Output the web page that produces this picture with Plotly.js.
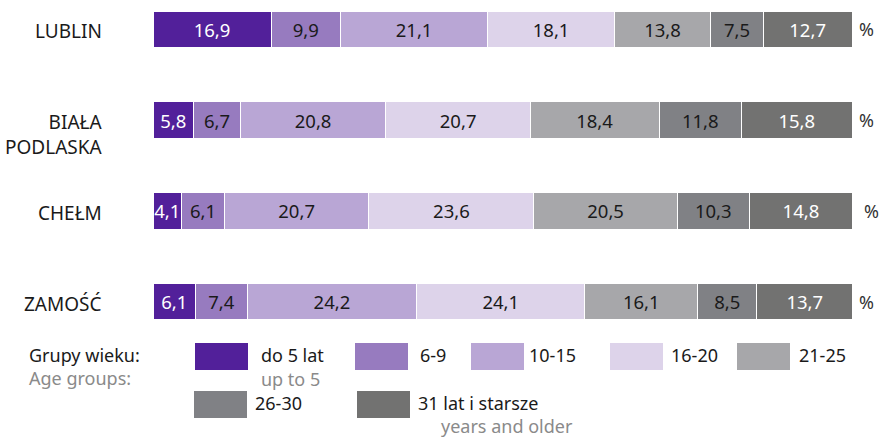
<!DOCTYPE html>
<html>
<head>
<meta charset="utf-8">
<script src="https://cdn.plot.ly/plotly-3.0.1.min.js"></script>
<style>html,body{margin:0;padding:0;background:#fff}#chart{width:880px;height:437px}</style>
</head>
<body>
<div id="chart"></div>
<script>
// ---- data ----
var cities = ["LUBLIN", "BIAŁA<br>PODLASKA", "CHEŁM", "ZAMOŚĆ"];
var groupsPL = ["do 5 lat", "6-9", "10-15", "16-20", "21-25", "26-30", "31 lat i starsze"];
var groupsEN = ["up to 5", "", "", "", "", "", "years and older"];
var v_do5   = [16.9, 5.8, 4.1, 6.1];
var v_6_9   = [9.9, 6.7, 6.1, 7.4];
var v_10_15 = [21.1, 20.8, 20.7, 24.2];
var v_16_20 = [18.1, 20.7, 23.6, 24.1];
var v_21_25 = [13.8, 18.4, 20.5, 16.1];
var v_26_30 = [7.5, 11.8, 10.3, 8.5];
var v_31    = [12.7, 15.8, 14.8, 13.7];
var legendTitlePL = "Grupy wieku:";
var legendTitleEN = "Age groups:";
var unit = "%";

// ---- styles ----
var series = [v_do5, v_6_9, v_10_15, v_16_20, v_21_25, v_26_30, v_31];
var colors = ["#52209a", "#977bbf", "#b9a6d5", "#ddd3ea", "#a7a7aa", "#808185", "#727271"];
var textColors = ["#ffffff", "#1a1a1a", "#1a1a1a", "#1a1a1a", "#1a1a1a", "#1a1a1a", "#ffffff"];
var unitShift = [5, 5, 9, 4];
var FONT = "'Noto Sans', 'Open Sans', sans-serif";
var W = 880, H = 437, ML = 153, MR = 28, MT = 5, MB = 107;
var PW = W - ML - MR, PH = H - MT - MB;
function px(x) { return (x - ML) / PW; }
function py(y) { return (H - MB - y) / PH; }

var yPos = cities.map(function (c, i) { return i; });

var traces = series.map(function (vals, k) {
  return {
    type: "bar",
    orientation: "h",
    name: groupsPL[k],
    x: vals,
    y: yPos,
    width: 0.396,
    marker: { color: colors[k], line: { color: "#ffffff", width: 1 } },
    texttemplate: "%{x:.1f}",
    textposition: "inside",
    insidetextanchor: "middle",
    textangle: 0,
    constraintext: "none",
    textfont: { family: FONT, size: 18.5, color: textColors[k] },
    hoverinfo: "x+name",
    showlegend: false
  };
});

var annotations = [];
var shapes = [];
// row labels and unit signs
cities.forEach(function (c, i) {
  var lines = c.split("<br>").length;
  annotations.push({
    xref: "paper", yref: "y", x: px(104), y: i, xanchor: "right", yanchor: "middle",
    text: c, showarrow: false, align: "right",
    yshift: -2 - (lines - 1) * 12.5,
    font: { family: FONT, size: 19, color: "#1a1a1a" }
  });
  var total = 0;
  series.forEach(function (s) { total += s[i]; });
  annotations.push({
    xref: "paper", yref: "y", x: total / 100, y: i, xanchor: "left", yanchor: "middle",
    text: unit, showarrow: false, xshift: unitShift[i],
    font: { family: FONT, size: 18, color: "#333333" }
  });
});

// legend (custom)
var LF = 18;
annotations.push({ xref: "paper", yref: "paper", x: px(27), y: py(354.5), xanchor: "left", yanchor: "middle",
  text: legendTitlePL, showarrow: false, font: { family: FONT, size: LF, color: "#1a1a1a" } });
annotations.push({ xref: "paper", yref: "paper", x: px(27), y: py(378), xanchor: "left", yanchor: "middle",
  text: legendTitleEN, showarrow: false, font: { family: FONT, size: LF, color: "#8a8a8a" } });

var legPos = [
  { sx: 195, sy: 343, tx: 259, ex: 259, ey: 378.5 },
  { sx: 355, sy: 343, tx: 418 },
  { sx: 471, sy: 343, tx: 527 },
  { sx: 610, sy: 343, tx: 669 },
  { sx: 737, sy: 343, tx: 797 },
  { sx: 194, sy: 391, tx: 253 },
  { sx: 357, sy: 391, tx: 416, ex: 439, ey: 425.5 }
];
legPos.forEach(function (p, k) {
  shapes.push({ type: "rect", xref: "paper", yref: "paper",
    x0: px(p.sx), x1: px(p.sx + 53), y0: py(p.sy), y1: py(p.sy + 27),
    fillcolor: colors[k], line: { width: 0 } });
  annotations.push({ xref: "paper", yref: "paper", x: px(p.tx), y: py(p.sy + 12), xanchor: "left", yanchor: "middle",
    text: groupsPL[k], showarrow: false, font: { family: FONT, size: LF, color: "#1a1a1a" } });
  if (groupsEN[k]) {
    annotations.push({ xref: "paper", yref: "paper", x: px(p.ex), y: py(p.ey), xanchor: "left", yanchor: "middle",
      text: groupsEN[k], showarrow: false, font: { family: FONT, size: LF, color: "#8a8a8a" } });
  }
});

var layout = {
  width: W, height: H,
  margin: { l: ML, r: MR, t: MT, b: MB, pad: 0 },
  barmode: "stack",
  separators: ", ",
  paper_bgcolor: "#ffffff",
  plot_bgcolor: "#ffffff",
  font: { family: FONT },
  xaxis: { range: [0, 100], visible: false, fixedrange: true },
  yaxis: { range: [3.308, -0.264], visible: false, fixedrange: true },
  annotations: annotations,
  shapes: shapes,
  showlegend: false
};

Plotly.newPlot("chart", traces, layout, { displayModeBar: false, staticPlot: true });
</script>
</body>
</html>
